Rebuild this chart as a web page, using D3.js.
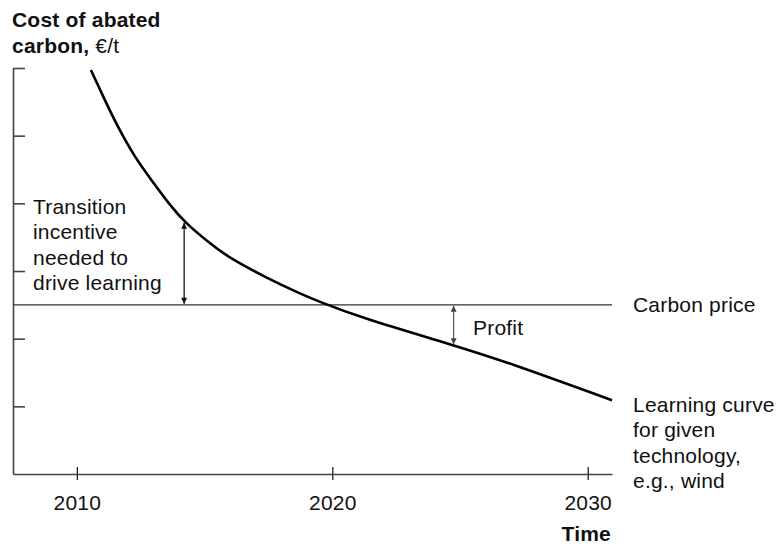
<!DOCTYPE html>
<html>
<head>
<meta charset="utf-8">
<script src="https://cdn.jsdelivr.net/npm/d3@7"></script>
<style>
  body { margin: 0; background: #fff; }
  svg { font-family: "Liberation Sans", Arial, sans-serif; }
  .lbl { font-size: 21px; fill: #111; letter-spacing: 0.2px; }
</style>
</head>
<body>
<svg id="chart" width="776" height="546"></svg>
<script>
// learning curve (years, cost index)
const years = [2010.55, 2011.09, 2011.6, 2012.27, 2012.89, 2013.63, 2014.22, 2015.2, 2015.98, 2017.42, 2018.71, 2019.61, 2021.05, 2024.69, 2026.8, 2030.95];
const costs = [5.97, 5.53, 5.13, 4.68, 4.36, 3.98, 3.72, 3.41, 3.19, 2.90, 2.67, 2.53, 2.32, 1.91, 1.66, 1.09];
const carbonPrice = 2.5;
const yTicks = [1, 2, 3, 4, 5, 6];
const xTicks = [2010, 2020, 2030];
const transitionYear = 2014.2;
const profitYear = 2024.75;

const svg = d3.select("#chart");
const x = d3.scaleLinear().domain([2007.5, 2030.95]).range([13, 612]);
const y = d3.scaleLinear().domain([0, 6]).range([474, 68]);

const curve = d3.line()
    .x(d => x(d[0]))
    .y(d => y(d[1]))
    .curve(d3.curveBasis);
const pts = years.map((yr, i) => [yr, costs[i]]);

// value on the curve for a given year
function costAt(yr) {
    const i = d3.bisectLeft(years, yr);
    const t = (yr - years[i - 1]) / (years[i] - years[i - 1]);
    return costs[i - 1] + t * (costs[i] - costs[i - 1]);
}

// arrow heads
const defs = svg.append("defs");
function marker(id, color) {
    defs.append("marker")
        .attr("id", id)
        .attr("viewBox", "0 0 10 10")
        .attr("refX", 10).attr("refY", 5)
        .attr("markerWidth", 7).attr("markerHeight", 6)
        .attr("markerUnits", "userSpaceOnUse")
        .attr("orient", "auto-start-reverse")
        .append("path")
        .attr("d", "M0,0 L10,5 L0,10 Z")
        .attr("fill", color);
}
marker("ah", "#111");
marker("ahg", "#444");

// y axis
const yAxis = svg.append("g")
    .attr("transform", "translate(13,0)")
    .call(d3.axisRight(y).tickValues(yTicks).tickSize(12).tickSizeOuter(0).tickFormat(""));
yAxis.selectAll("path, line").attr("stroke", "#444").attr("stroke-width", 1.6);

// x axis
const xAxis = svg.append("g")
    .attr("transform", "translate(0," + y(0) + ")")
    .call(d3.axisBottom(x).tickValues(xTicks).tickSizeOuter(0).tickFormat(d3.format("d")));
xAxis.select(".domain").attr("stroke", "#444").attr("stroke-width", 1.6);
xAxis.selectAll(".tick line").attr("y1", -7).attr("y2", 6).attr("stroke", "#222").attr("stroke-width", 1.3);
xAxis.selectAll(".tick text")
    .attr("y", 36).attr("dy", null)
    .attr("font-size", 21).attr("fill", "#111")
    .attr("letter-spacing", "0.2px")
    .attr("font-family", "Liberation Sans, Arial, sans-serif");

// carbon price line
svg.append("line")
    .attr("x1", x(2007.5)).attr("x2", x(2030.95))
    .attr("y1", y(carbonPrice)).attr("y2", y(carbonPrice))
    .attr("stroke", "#333").attr("stroke-width", 1.4);

// learning curve
svg.append("path")
    .datum(pts)
    .attr("d", curve)
    .attr("fill", "none")
    .attr("stroke", "#000")
    .attr("stroke-width", 2.6);

// arrows
svg.append("line")
    .attr("x1", x(transitionYear)).attr("x2", x(transitionYear))
    .attr("y1", y(costAt(transitionYear)) + 1).attr("y2", y(carbonPrice) - 1)
    .attr("stroke", "#111").attr("stroke-width", 1.3)
    .attr("marker-start", "url(#ah)").attr("marker-end", "url(#ah)");
svg.append("line")
    .attr("x1", x(profitYear)).attr("x2", x(profitYear))
    .attr("y1", y(carbonPrice) + 1).attr("y2", y(costAt(profitYear)) - 1)
    .attr("stroke", "#555").attr("stroke-width", 1.2)
    .attr("marker-start", "url(#ahg)").attr("marker-end", "url(#ahg)");

// labels
function block(lines, x0, y0, dy) {
    const t = svg.append("text").attr("class", "lbl").attr("x", x0).attr("y", y0);
    lines.forEach((s, i) => t.append("tspan").attr("x", x0).attr("y", y0 + i * dy).text(s));
    return t;
}

const title = svg.append("text").attr("class", "lbl").attr("x", 12).attr("y", 27);
title.append("tspan").attr("font-weight", "bold").text("Cost of abated");
const t2 = svg.append("text").attr("class", "lbl").attr("x", 12).attr("y", 53);
t2.append("tspan").attr("font-weight", "bold").text("carbon, ");
t2.append("tspan").text("€/t");

block(["Transition", "incentive", "needed to", "drive learning"], 33, 214, 25.3);
block(["Profit"], 473, 335, 0);
block(["Carbon price"], 633, 312, 0);
block(["Learning curve", "for given", "technology,", "e.g., wind"], 633, 412, 25.3);

svg.append("text").attr("class", "lbl")
    .attr("x", 611).attr("y", 541)
    .attr("text-anchor", "end")
    .attr("font-weight", "bold")
    .text("Time");
</script>
</body>
</html>
